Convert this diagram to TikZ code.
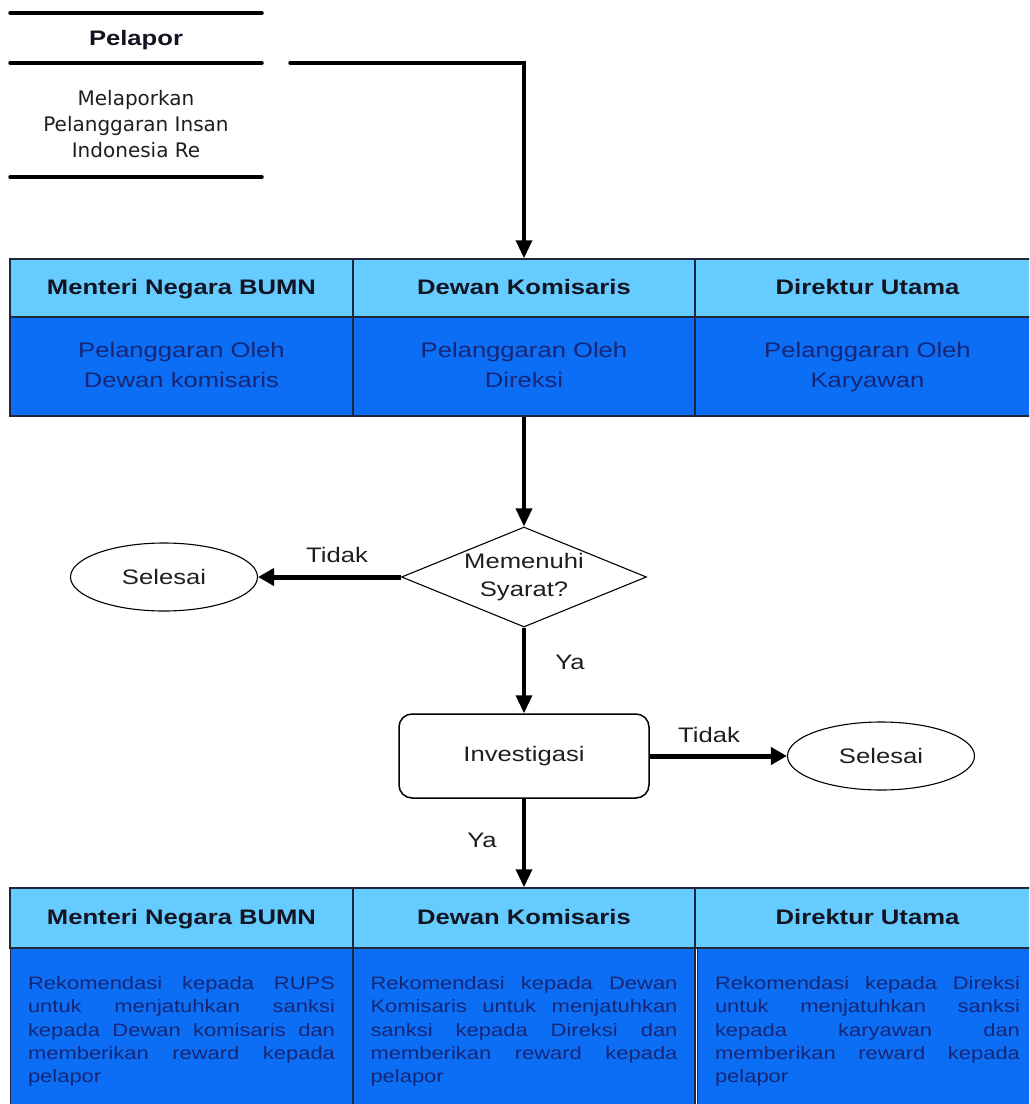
\documentclass[tikz,border=0pt]{standalone}
\usepackage{fontspec}
\setmainfont{Liberation Sans}[FakeStretch=1.22]
\newfontfamily\verd{DejaVu Sans}
\usetikzlibrary{arrows.meta,shapes.geometric}
\definecolor{hdrblue}{RGB}{102,204,255}
\definecolor{bodyblue}{RGB}{12,110,245}
\definecolor{navytext}{RGB}{22,38,118}
\definecolor{hdrtext}{RGB}{18,20,34}
\definecolor{gridline}{RGB}{30,40,60}
\definecolor{flowtext}{RGB}{30,30,30}
\hyphenpenalty=10000
\exhyphenpenalty=10000
\begin{document}
\begin{tikzpicture}[x=1pt,y=-1pt,
  lanerule/.style={line width=3.5pt,line cap=round},
  conn/.style={line width=3.5pt,-{Triangle[length=18pt,width=16pt]}},
  bigconn/.style={line width=5pt,-{Triangle[length=16pt,width=17pt]}},
  hdrcell/.style={draw=gridline,line width=1.5pt,fill=hdrblue,text=hdrtext,
    font=\fontsize{21}{25}\selectfont\bfseries,inner sep=0pt,text height=14pt,text depth=0.5pt},
  bodycell/.style={draw=gridline,line width=1.5pt,fill=bodyblue,text=navytext,
    font=\fontsize{21}{30}\selectfont,align=center,inner sep=0pt},
  jbody/.style={draw=gridline,line width=1.5pt,fill=bodyblue,text=navytext,
    font=\fontsize{18}{23.3}\selectfont,align=justify,
    text width=307pt,inner xsep=17.5pt,inner ysep=0pt},
  flowtxt/.style={font=\fontsize{21}{28}\selectfont,text=flowtext},
  endnode/.style={ellipse,draw,line width=1.1pt,minimum width=187pt,minimum height=68pt,inner sep=0pt,flowtxt},
]
\useasboundingbox (0,0) rectangle (1029,1104);
\clip (0,0) rectangle (1029,1104);

% Pelapor lane
\draw[lanerule] (10,13) -- (262,13);
\draw[lanerule] (10,63) -- (262,63);
\draw[lanerule] (10,177) -- (262,177);
\node[font=\fontsize{21}{25}\selectfont\bfseries,text=hdrtext] (pel) at (136,40) {Pelapor};
\node[font=\verd\fontsize{20}{26}\selectfont,align=center,text=flowtext] (lapor) at (136,124)
  {Melaporkan\\Pelanggaran Insan\\Indonesia Re};
\coordinate (pstart) at (290,63);

% top table
\node[hdrcell,minimum width=343pt,minimum height=58pt] (h11) at (181.5,288) {Menteri Negara BUMN};
\node[hdrcell,minimum width=342pt,minimum height=58pt] (h12) at (524,288) {Dewan Komisaris};
\node[hdrcell,minimum width=345pt,minimum height=58pt] (h13) at (867.5,288) {Direktur Utama};
\node[bodycell,minimum width=343pt,minimum height=99pt] (b11) at (181.5,366.5) {\strut Pelanggaran Oleh\\Dewan komisaris\strut};
\node[bodycell,minimum width=342pt,minimum height=99pt] (b12) at (524,366.5) {\strut Pelanggaran Oleh\\Direksi\strut};
\node[bodycell,minimum width=345pt,minimum height=99pt] (b13) at (867.5,366.5) {\strut Pelanggaran Oleh\\Karyawan\strut};

\draw[conn,line cap=round] (pstart) -| (h12.north);

% decision
\node[diamond,draw,line width=1.1pt,minimum width=245pt,minimum height=100pt,aspect=2.45,inner sep=0pt,
  flowtxt,align=center] (dia) at (524,577) {Memenuhi\\Syarat?};
\node[endnode] (sel1) at (164,577) {Selesai};
\node[draw,line width=1.5pt,rounded corners=13pt,minimum width=250pt,minimum height=84pt,flowtxt] (inv) at (524,756) {Investigasi};
\node[endnode] (sel2) at (881,756) {Selesai};

\draw[conn] (b12.south) -- (dia.north);
\draw[bigconn] (dia.west) -- (sel1.east);
\draw[conn] (dia.south) -- (inv.north);
\draw[bigconn] (inv.east) -- (sel2.west);

\node[flowtxt] (t1) at (337,555) {Tidak};
\node[flowtxt] (y1) at (570,662) {Ya};
\node[flowtxt] (t2) at (709,735) {Tidak};
\node[flowtxt] (y2) at (482,840) {Ya};

% bottom table
\node[hdrcell,minimum width=343pt,minimum height=60pt] (h21) at (181.5,918) {Menteri Negara BUMN};
\node[hdrcell,minimum width=342pt,minimum height=60pt] (h22) at (524,918) {Dewan Komisaris};
\node[hdrcell,minimum width=345pt,minimum height=60pt] (h23) at (867.5,918) {Direktur Utama};

\draw[conn] (inv.south) -- (h22.north);

\node[jbody,minimum height=167pt] (b21) at (181.5,1031.5)
  {Rekomendasi kepada RUPS\linebreak untuk menjatuhkan sanksi\linebreak kepada Dewan komisaris dan\linebreak memberikan reward kepada\linebreak pelapor};
\node[jbody,minimum height=167pt] (b22) at (524,1031.5)
  {Rekomendasi kepada Dewan\linebreak Komisaris untuk menjatuhkan\linebreak sanksi kepada Direksi dan\linebreak memberikan reward kepada\linebreak pelapor};
\node[jbody,minimum height=167pt,text width=305pt] (b23) at (867.5,1031.5)
  {Rekomendasi kepada Direksi\linebreak untuk menjatuhkan sanksi\linebreak kepada karyawan dan\linebreak memberikan reward kepada\linebreak pelapor};
\end{tikzpicture}
\end{document}
